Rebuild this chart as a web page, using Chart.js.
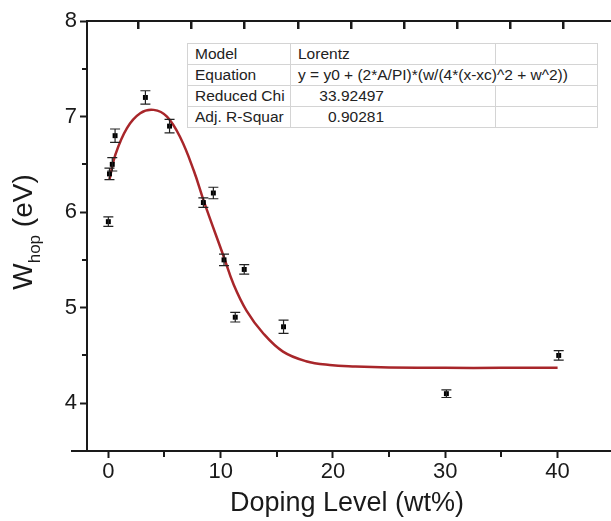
<!DOCTYPE html>
<html>
<head>
<meta charset="utf-8">
<script src="https://cdn.jsdelivr.net/npm/chart.js@4.4.1/dist/chart.umd.min.js"></script>
<style>
  html, body { margin: 0; padding: 0; background: #fff; }
  #wrap { position: relative; width: 611px; height: 521px; }
  #fit {
    position: absolute; left: 187px; top: 43px;
    border-collapse: collapse; font-family: Arial, "Liberation Sans", sans-serif;
    font-size: 15.5px; color: #222; background: #fff;
    border: 1.5px solid #8a8a8a;
  }
  #fit td { border: 1px solid #d4d4d4; height: 20px; padding: 0 0 0 7px; white-space: nowrap; line-height: 20px; }
  #fit td.num span { display: inline-block; width: 86px; text-align: right; }
</style>
</head>
<body>
<div id="wrap">
  <canvas id="chart" width="611" height="521"></canvas>
  <table id="fit">
    <tr><td style="width:95px">Model</td><td style="width:197px">Lorentz</td><td style="width:94px"></td></tr>
    <tr><td>Equation</td><td colspan="2">y = y0 + (2*A/PI)*(w/(4*(x-xc)^2 + w^2))</td></tr>
    <tr><td>Reduced Chi</td><td class="num"><span>33.92497</span></td><td></td></tr>
    <tr><td>Adj. R-Squar</td><td class="num"><span>0.90281</span></td><td></td></tr>
  </table>
</div>
<script>
// measured points (doping wt%, W_hop eV, error)
const doping = [0, 0.1, 0.35, 0.6, 3.3, 5.45, 8.46, 9.35, 10.3, 11.3, 12.1, 15.6, 30.1, 40.1];
const whop   = [5.9, 6.4, 6.5, 6.8, 7.2, 6.9, 6.1, 6.2, 5.5, 4.9, 5.4, 4.8, 4.1, 4.5];
const whopErr = [0.05, 0.06, 0.07, 0.07, 0.07, 0.07, 0.05, 0.06, 0.06, 0.05, 0.05, 0.07, 0.04, 0.05];

// Lorentz fit curve
const fitX = [0.1, 0.62, 1.66, 2.84, 4.03, 5.22, 6.43, 7.62, 8.5, 10.3, 11.13, 12.3, 13.8, 15.55, 17.6, 19.7, 22, 25, 30, 35, 40];
const fitY = [6.34, 6.6, 6.88, 7.035, 7.07, 7.0, 6.775, 6.43, 6.115, 5.525, 5.25, 4.97, 4.73, 4.54, 4.44, 4.4, 4.385, 4.375, 4.37, 4.37, 4.37];

const xTickVals = [0, 10, 20, 30, 40];
const yTickVals = [4, 5, 6, 7, 8];
const xMinorVals = [5, 15, 25, 35];
const yMinorVals = [4.5, 5.5, 6.5, 7.5];
// ticks along the top frame (they do not line up with the bottom ones)
const topTickVals = [2.66, 7.39, 12.12, 16.85, 21.58, 26.31, 31.04, 35.77, 40.5];

const FONT = 'Arial, "Liberation Sans", sans-serif';
const INK = '#1a1a1a';

const errorBars = {
  id: 'errorBars',
  afterDatasetsDraw(chart) {
    const xs = chart.scales.x, ys = chart.scales.y, c = chart.ctx;
    c.save();
    c.strokeStyle = '#222';
    c.lineWidth = 1.2;
    doping.forEach((d, i) => {
      const px = xs.getPixelForValue(d);
      const top = ys.getPixelForValue(whop[i] + whopErr[i]);
      const bot = ys.getPixelForValue(whop[i] - whopErr[i]);
      c.beginPath();
      c.moveTo(px, top); c.lineTo(px, bot);
      c.moveTo(px - 5, top); c.lineTo(px + 5, top);
      c.moveTo(px - 5, bot); c.lineTo(px + 5, bot);
      c.stroke();
    });
    c.restore();
  }
};

const frame = {
  id: 'frame',
  afterDraw(chart) {
    const c = chart.ctx, a = chart.chartArea;
    const xs = chart.scales.x, ys = chart.scales.y;
    c.save();
    c.fillStyle = INK;
    // top line and bottom extension
    c.fillRect(a.left - 1, a.top - 1, chart.width - a.left + 1, 2);
    c.fillRect(a.left - 16, a.bottom - 1, chart.width - a.left + 16, 2);
    // minor ticks
    yMinorVals.forEach(v => {
      const py = Math.round(ys.getPixelForValue(v));
      c.fillRect(a.left - 5, py - 1, 5, 2);
    });
    xMinorVals.forEach(v => {
      const px = Math.round(xs.getPixelForValue(v));
      c.fillRect(px - 1, a.bottom, 2, 6);
    });
    // top frame ticks
    topTickVals.forEach(v => {
      const px = Math.round(xs.getPixelForValue(v));
      c.fillRect(px - 1, a.top, 2.5, 8);
    });

    // y title: W_hop (eV)
    c.translate(22, 232);
    c.rotate(-Math.PI / 2);
    c.textBaseline = 'alphabetic';
    c.font = '28px ' + FONT;
    const wW = c.measureText('W').width;
    c.font = '17px ' + FONT;
    const wH = c.measureText('hop').width;
    c.font = '28px ' + FONT;
    const wE = c.measureText(' (eV)').width;
    let x0 = -(wW + wH + wE) / 2;
    c.fillText('W', x0, 10);
    c.font = '17px ' + FONT;
    c.fillText('hop', x0 + wW, 18);
    c.font = '28px ' + FONT;
    c.fillText(' (eV)', x0 + wW + wH, 10);
    c.restore();
  }
};

new Chart(document.getElementById('chart'), {
  type: 'scatter',
  data: {
    datasets: [
      {
        label: 'Lorentz fit',
        data: fitX.map((x, i) => ({ x: x, y: fitY[i] })),
        showLine: true,
        borderColor: '#a8262a',
        borderWidth: 2.5,
        pointRadius: 0,
        tension: 0.4,
        order: 1
      },
      {
        label: 'W_hop',
        data: doping.map((x, i) => ({ x: x, y: whop[i] })),
        pointStyle: 'rect',
        pointRadius: 3.5,
        backgroundColor: '#000',
        borderColor: '#000',
        borderWidth: 0,
        order: 0
      }
    ]
  },
  options: {
    responsive: false,
    animation: false,
    layout: { padding: { left: 0, top: 21, right: 2, bottom: 0 } },
    plugins: { legend: { display: false }, tooltip: { enabled: false } },
    scales: {
      x: {
        type: 'linear', min: -1.9, max: 44.4,
        afterBuildTicks: s => { s.ticks = xTickVals.map(v => ({ value: v })); },
        afterFit: s => { s.height = 70; },
        grid: { display: true, drawOnChartArea: false, tickLength: 7, tickColor: INK, tickWidth: 2 },
        border: { display: true, color: INK, width: 2 },
        ticks: { font: { family: FONT, size: 22 }, color: INK, padding: 1, maxRotation: 0 },
        title: { display: true, text: 'Doping Level (wt%)', font: { family: FONT, size: 27 }, color: INK, padding: { top: 0, bottom: 1 } }
      },
      y: {
        type: 'linear', min: 3.5, max: 8,
        afterBuildTicks: s => { s.ticks = yTickVals.map(v => ({ value: v })); },
        afterFit: s => { s.width = 87; },
        grid: { display: true, drawOnChartArea: false, tickLength: 7, tickColor: INK, tickWidth: 2 },
        border: { display: true, color: INK, width: 2 },
        ticks: { font: { family: FONT, size: 22 }, color: INK, padding: 3 }
      }
    }
  },
  plugins: [errorBars, frame]
});
</script>
</body>
</html>
